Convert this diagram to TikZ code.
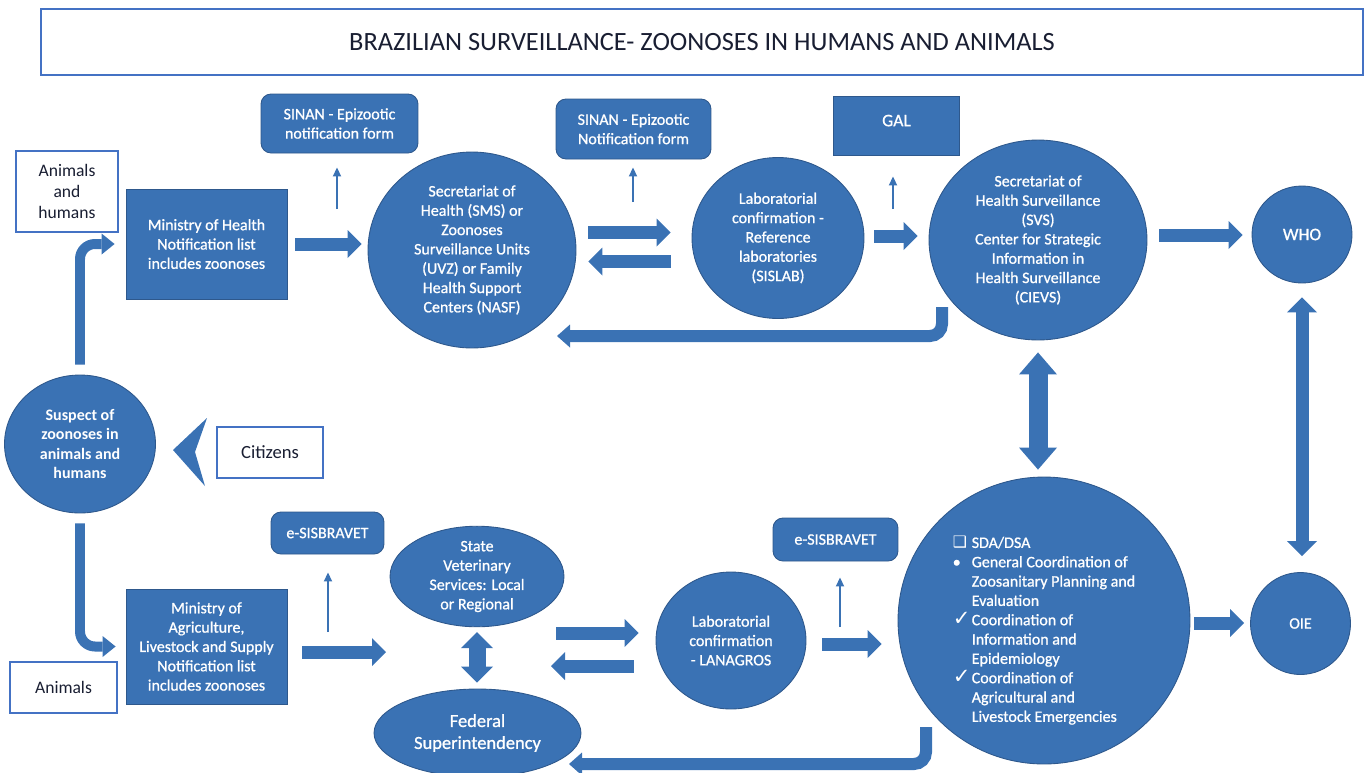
\documentclass[tikz,border=0pt]{standalone}
\usepackage{fontspec}
\setmainfont{Carlito}
\newfontfamily\symbfont{DejaVu Sans}
\newfontfamily\medfont{Carlito}[FakeBold=0.9]
\usetikzlibrary{shapes.geometric,arrows.meta}
\definecolor{boxblue}{RGB}{58,114,180}
\definecolor{edgeblue}{RGB}{46,88,140}
\definecolor{frameblue}{RGB}{68,114,196}
\definecolor{inkdark}{RGB}{25,30,50}
\newcommand\figtext{\medfont\fontsize{9.1}{11}\selectfont}
\newcommand\wtext{\fontsize{10}{12}\selectfont}
\begin{document}
\begin{tikzpicture}[x=0.02cm,y=-0.02cm,
    box/.style={rectangle, fill=boxblue, draw=edgeblue, line width=0.5pt, text=white, inner sep=0pt, align=center, font=\figtext},
    rbox/.style={box, rounded corners=0.2cm},
    blob/.style={ellipse, fill=boxblue, draw=edgeblue, line width=0.5pt, text=white, inner sep=0pt, align=center, font=\figtext},
    wbox/.style={rectangle, fill=white, draw=frameblue, line width=0.8pt, text=inkdark, inner sep=0pt, align=center, font=\wtext},
    blk/.style={draw=boxblue, line width=0.26cm, -{Triangle[width=0.56cm,length=0.28cm,line width=0pt]}},
    ret/.style={draw=boxblue, line width=0.24cm, rounded corners=0.24cm, -{Triangle[width=0.46cm,length=0.26cm,line width=0pt]}},
    elbowarrow/.style={draw=boxblue, line width=0.2cm, rounded corners=0.3cm, -{Triangle[width=0.42cm,length=0.26cm,line width=0pt]}},
    note/.style={draw=boxblue, line width=1pt, -{Triangle[width=0.16cm,length=0.18cm]}}]
    \useasboundingbox (0,0) rectangle (1366,772);
    % title
    \node[wbox, minimum width=26.44cm, minimum height=1.32cm, font=\fontsize{15}{18}\selectfont] (T) at (702,42) {BRAZILIAN SURVEILLANCE- ZOONOSES IN HUMANS AND ANIMALS};
    %%%%%%%%%%%%%%%%%%%%%% health branch
    \node[wbox, minimum width=2.04cm, minimum height=1.62cm] (AH) at (67,191.5) {Animals\\and\\humans};
    %
    \node[box, minimum width=3.22cm, minimum height=2.2cm] (MH) at (206.5,244) {Ministry of Health\\Notification list\\includes zoonoses};
    %
    \node[rbox, minimum width=3.14cm, minimum height=1.18cm] (SA) at (339.5,123.5) {SINAN - Epizootic\\notification form};
    %
    \node[blob, minimum width=4.16cm, minimum height=3.92cm] (SMS) at (472,250) {Secretariat of\\Health (SMS) or\\Zoonoses\\Surveillance Units\\(UVZ) or Family\\Health Support\\Centers (NASF)};
    %
    \node[rbox, minimum width=3.1cm, minimum height=1.2cm] (SB) at (633.5,129) {SINAN - Epizootic\\Notification form};
    %
    \node[blob, minimum width=3.44cm, minimum height=3.22cm] (LB) at (778,238) {Laboratorial\\confirmation -\\Reference\\laboratories\\(SISLAB)};
    %
    \node[box, minimum width=2.52cm, minimum height=1.18cm, font=\figtext\fontsize{10}{12}\selectfont] (GAL) at (896.5,125.5) {\raisebox{0.2cm}{GAL}};
    %
    \node[blob, minimum width=4.36cm, minimum height=4cm] (SVS) at (1038,240) {Secretariat of\\Health Surveillance\\(SVS)\\Center for Strategic\\Information in\\Health Surveillance\\(CIEVS)};
    %
    \node[blob, minimum width=2cm, minimum height=1.94cm, font=\figtext\fontsize{10}{12}\selectfont] (WHO) at (1302,234.5) {WHO};
    %%%%%%%%%%%%%%%%%%%%%% entry
    \node[blob, minimum width=3.02cm, minimum height=2.76cm, font=\fontsize{9.1}{11}\selectfont\bfseries] (SU) at (80,444) {Suspect of\\zoonoses in\\animals and\\humans};
    %
    \node[wbox, minimum width=2.12cm, minimum height=1.02cm, font=\fontsize{10.6}{12}\selectfont] (CI) at (270,452.5) {Citizens};
    %
    \fill[boxblue] (173,450) -- (207,418) -- (195,452) -- (205,486) -- cycle;
    %%%%%%%%%%%%%%%%%%%%%% agriculture branch
    \node[wbox, minimum width=2.14cm, minimum height=1.02cm] (AN) at (63.5,687.5) {Animals};
    %
    \node[box, minimum width=3.22cm, minimum height=2.3cm] (MP) at (206.5,646.5) {Ministry of\\Agriculture,\\Livestock and Supply\\Notification list\\includes zoonoses};
    %
    \node[rbox, minimum width=2.26cm, minimum height=0.84cm] (EA) at (327.5,533) {e-SISBRAVET};
    %
    \node[blob, minimum width=3.48cm, minimum height=1.86cm] (SV) at (477,576.5) {State\\Veterinary\\Services: Local\\or Regional};
    %
    \node[blob, minimum width=4.14cm, minimum height=1.76cm, font=\figtext\fontsize{10.5}{12.5}\selectfont] (FS) at (477.5,733) {Federal\\Superintendency};
    %
    \node[blob, minimum width=3cm, minimum height=2.74cm] (LN) at (731,640.5) {Laboratorial\\confirmation\\- LANAGROS};
    %
    \node[rbox, minimum width=2.5cm, minimum height=0.86cm] (EB) at (835.5,539.5) {e-SISBRAVET};
    %
    \node[blob, minimum width=5.84cm, minimum height=5.74cm] (SDA) at (1044,620.5) {};
    \node[text=white, font=\figtext, inner sep=0pt] (SDAtext) at ([yshift=-0.21cm]SDA.center) {\begin{tabular}{@{}p{0.38cm}@{}l@{}}
      {\symbfont\small ❑} & SDA/DSA\\
      • & General Coordination of\\
        & Zoosanitary Planning and\\
        & Evaluation\\
      {\symbfont\large ✓} & Coordination of\\
        & Information and\\
        & Epidemiology\\
      {\symbfont\large ✓} & Coordination of\\
        & Agricultural and\\
        & Livestock Emergencies
    \end{tabular}};
    %
    \node[blob, minimum width=2cm, minimum height=2.04cm] (OIE) at (1300.5,623.5) {OIE};
    %%%%%%%%%%%%%%%%%%%%%% free ends
    \coordinate (nA) at (337,209);
    \coordinate (nB) at (633,202);
    \coordinate (nG) at (893,209);
    \coordinate (nC) at (328,632);
    \coordinate (nD) at (840,627);
    \coordinate (vetin) at (386,652);
    \coordinate (vetR) at (556,633);
    \coordinate (vetL) at (551,666);
    \coordinate (svsR) at (942,307);
    \coordinate (smsR) at (557,336);
    \coordinate (sdaR) at (926,727);
    \coordinate (fedR) at (569,764);
    %%%%%%%%%%%%%%%%%%%%%% connectors
    \draw[elbowarrow, shorten <=0.2cm, shorten >=0.22cm] (SU.north) |- (MH.west);
    \draw[elbowarrow, shorten <=0.2cm, shorten >=0.2cm] (SU.south) |- (MP.west);
    %
    \draw[note, shorten >=0.28cm] (nA) -- (nA |- SA.south);
    \draw[note, shorten >=0.16cm] (nB) -- (nB |- SB.south);
    \draw[note, shorten >=0.42cm] (nG) -- (nG |- GAL.south);
    \draw[note, shorten >=0.36cm] (nC) -- (nC |- EA.south);
    \draw[note, shorten >=0.32cm] (nD) -- (nD |- EB.south);
    %
    \draw[blk, shorten <=0.16cm, shorten >=0.12cm] (MH.east) -- (MH.east -| SMS.west);
    \draw[blk, shorten <=0.24cm, shorten >=0.42cm] ([yshift=0.35cm]SMS.east) -- ([yshift=0.35cm]SMS.east -| LB.west);
    \draw[blk, shorten <=0.42cm, shorten >=0.24cm] ([yshift=-0.47cm]LB.west) -- ([yshift=-0.47cm]LB.west -| SMS.east);
    \draw[blk, shorten <=0.2cm, shorten >=0.22cm] ([yshift=0.04cm]LB.east) -- ([yshift=0.04cm]LB.east -| SVS.west);
    \draw[blk, shorten <=0.24cm, shorten >=0.18cm] ([yshift=0.1cm]SVS.east) -- ([yshift=0.1cm]SVS.east -| WHO.west);
    \draw[ret] (svsR) |- (smsR);
    %
    \draw[draw=boxblue, line width=0.38cm, {Triangle[width=0.76cm,length=0.44cm,line width=0pt]}-{Triangle[width=0.76cm,length=0.44cm,line width=0pt]}, shorten <=0.24cm, shorten >=0.14cm] (SVS.south) -- (SVS.south |- SDA.north);
    \draw[draw=boxblue, line width=0.26cm, {Triangle[width=0.6cm,length=0.3cm,line width=0pt]}-{Triangle[width=0.6cm,length=0.3cm,line width=0pt]}, shorten <=0.28cm, shorten >=0.32cm] (WHO.south) -- (WHO.south |- OIE.north);
    %
    \draw[blk, shorten <=0.3cm] (vetin -| MP.east) -- (vetin);
    \draw[draw=boxblue, line width=0.34cm, {Triangle[width=0.64cm,length=0.32cm,line width=0pt]}-{Triangle[width=0.64cm,length=0.32cm,line width=0pt]}, shorten <=0.1cm, shorten >=0.12cm] (SV.south) -- (SV.south |- FS.north);
    \draw[blk, shorten >=0.34cm] (vetR) -- (vetR -| LN.west);
    \draw[blk, shorten <=0.44cm] (vetL -| LN.west) -- (vetL);
    \draw[blk, shorten <=0.32cm, shorten >=0.32cm] ([yshift=-0.07cm]LN.east) -- ([yshift=-0.07cm]LN.east -| SDA.west);
    \draw[blk, shorten <=0.08cm, shorten >=0.12cm] ([yshift=-0.05cm]SDA.east) -- ([yshift=-0.05cm]SDA.east -| OIE.west);
    \draw[ret] (sdaR) |- (fedR);
\end{tikzpicture}
\end{document}
